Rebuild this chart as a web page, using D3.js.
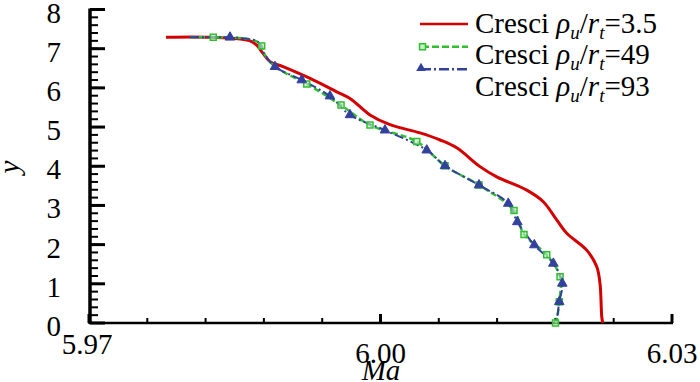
<!DOCTYPE html>
<html><head><meta charset="utf-8"><script src="https://cdn.jsdelivr.net/npm/d3@7"></script></head>
<body style="margin:0">
<svg id="s" width="700" height="382"></svg>
<script>
// ---- data ----
const xTicksMajor = [5.97, 6.00, 6.03];
const yTicksMajor = [0, 1, 2, 3, 4, 5, 6, 7, 8];

// Cresci rho_u/r_t = 3.5
const redMa = [5.97792, 5.98245, 5.98657, 5.98726, 5.98791, 5.98863, 5.98997, 5.99275, 5.99549, 5.99686, 5.99892, 6.00098, 6.00407, 6.00613, 6.00784, 6.01024, 6.01196, 6.01505, 6.01673, 6.01814, 6.01917, 6.02122, 6.02225, 6.02259, 6.02277, 6.02287];
const redY  = [7.29, 7.29, 7.20, 7.09, 6.88, 6.67, 6.54, 6.24, 5.90, 5.73, 5.31, 5.06, 4.85, 4.67, 4.47, 3.99, 3.73, 3.39, 3.10, 2.63, 2.29, 1.86, 1.44, 1.01, 0.16, 0.00];

// Cresci rho_u/r_t = 49 (squares)
const greenMa = [5.98039, 5.98279, 5.98636, 5.98739, 5.98777, 5.98811, 5.98914, 5.99241, 5.99594, 5.99892, 6.00373, 6.00664, 6.01014, 6.01374, 6.01477, 6.01711, 6.01848, 6.01840, 6.01813, 6.01801];
const greenY  = [7.29, 7.29, 7.25, 7.17, 7.07, 6.84, 6.54, 6.10, 5.56, 5.05, 4.63, 4.01, 3.52, 2.87, 2.26, 1.74, 1.18, 0.54, 0.08, 0.00];
const greenMark = [0, 1, 0, 0, 1, 0, 0, 1, 1, 1, 1, 1, 1, 1, 1, 1, 1, 1, 0, 1];

// Cresci rho_u/r_t = 93 (triangles)
const blueMa = [5.98039, 5.98451, 5.98636, 5.98739, 5.98811, 5.98914, 5.99189, 5.99480, 5.99686, 6.00046, 6.00476, 6.00664, 6.01014, 6.01315, 6.01408, 6.01583, 6.01779, 6.01871, 6.01840, 6.01813, 6.01801];
const blueY  = [7.29, 7.29, 7.25, 7.17, 6.84, 6.54, 6.20, 5.79, 5.31, 4.92, 4.41, 4.01, 3.52, 3.05, 2.58, 1.99, 1.52, 1.01, 0.54, 0.08, 0.00];
const blueMark = [0, 1, 0, 0, 0, 1, 1, 1, 1, 1, 1, 1, 1, 1, 1, 1, 1, 1, 1, 0, 0];

const legendLabels = ["3.5", "49", "93"];

// ---- chart ----
const svg = d3.select("#s");
const x = d3.scaleLinear().domain([5.97, 6.03]).range([89, 672]);
const y = d3.scaleLinear().domain([0, 8]).range([323, 9.5]);

const RED = "#d40000", GREEN = "#2fbf2f", BLUE = "#34409e";
const FS = 29;
const serif = sel => sel.attr("font-family", '"Times New Roman"').attr("font-size", FS);

// minor ticks
const xMinor = d3.range(0, 11).map(i => 5.97 + i * 0.006);
const yMinor = d3.range(0, 41).map(i => i * 0.2);

svg.append("g").selectAll("line").data(xMinor).join("line")
  .attr("x1", d => x(d)).attr("x2", d => x(d)).attr("y1", 323).attr("y2", 318)
  .attr("stroke", "#000").attr("stroke-width", 2);
svg.append("g").selectAll("line").data(yMinor).join("line")
  .attr("x1", 90).attr("x2", 98).attr("y1", d => y(d)).attr("y2", d => y(d))
  .attr("stroke", "#000").attr("stroke-width", 2);

// major ticks
svg.append("g").selectAll("line").data(xTicksMajor).join("line")
  .attr("x1", d => x(d)).attr("x2", d => x(d)).attr("y1", 323).attr("y2", 314)
  .attr("stroke", "#000").attr("stroke-width", 3);
svg.append("g").selectAll("line").data(yTicksMajor).join("line")
  .attr("x1", 90).attr("x2", 105).attr("y1", d => y(d)).attr("y2", d => y(d))
  .attr("stroke", "#000").attr("stroke-width", 3);

// axis lines
svg.append("line").attr("x1", 89).attr("x2", 673).attr("y1", 323).attr("y2", 323)
  .attr("stroke", "#000").attr("stroke-width", 2.5);
svg.append("line").attr("x1", 90).attr("x2", 90).attr("y1", y(8) - 1).attr("y2", 324)
  .attr("stroke", "#000").attr("stroke-width", 3.5);

// tick labels
const fmtX = d3.format(".2f");
svg.append("g").selectAll("text").data(xTicksMajor).join("text")
  .call(serif).attr("text-anchor", "middle")
  .attr("x", d => x(d) + (Math.abs(d - 5.97) < 1e-9 ? -2 : 0))
  .attr("y", d => 323 + (Math.abs(d - 5.97) < 1e-9 ? 31 : 40))
  .text(d => fmtX(d));
svg.append("g").selectAll("text").data(yTicksMajor).join("text")
  .call(serif).attr("text-anchor", "end")
  .attr("x", 61).attr("y", d => y(d) + 13)
  .text(d => d);

// axis titles
svg.append("text").attr("x", 381).attr("y", 380).attr("text-anchor", "middle")
  .call(serif).attr("font-style", "italic").text("Ma");
svg.append("text").attr("transform", "translate(19,167) rotate(-90)").attr("text-anchor", "middle")
  .call(serif).attr("font-style", "italic").text("y");

// lines
const toPts = (ma, yy) => ma.map((m, i) => [m, yy[i]]);
const line = d3.line().x(d => x(d[0])).y(d => y(d[1])).curve(d3.curveCatmullRom.alpha(0.5));

const redPts = toPts(redMa, redY);
const greenPts = toPts(greenMa, greenY);
const bluePts = toPts(blueMa, blueY);

svg.append("path").attr("d", line(redPts)).attr("fill", "none")
  .attr("stroke", RED).attr("stroke-width", 3);
svg.append("path").attr("d", line(greenPts)).attr("fill", "none")
  .attr("stroke", GREEN).attr("stroke-width", 2.5).attr("stroke-dasharray", "6,3");
svg.append("path").attr("d", line(bluePts)).attr("fill", "none")
  .attr("stroke", BLUE).attr("stroke-width", 2).attr("stroke-dasharray", "9,3,2,3");

// markers
const sq = d3.symbol().type(d3.symbolSquare).size(36);
const tri = d3.symbol().type(d3.symbolTriangle).size(40);
svg.append("g").selectAll("path").data(greenPts.filter((d, i) => greenMark[i]))
  .join("path").attr("d", sq)
  .attr("transform", d => `translate(${x(d[0])},${y(d[1])})`)
  .attr("fill", "#c8eec8").attr("fill-opacity", 0.6).attr("stroke", GREEN).attr("stroke-width", 1.5);
svg.append("g").selectAll("path").data(bluePts.filter((d, i) => blueMark[i]))
  .join("path").attr("d", tri)
  .attr("transform", d => `translate(${x(d[0])},${y(d[1])})`)
  .attr("fill", BLUE).attr("stroke", BLUE).attr("stroke-width", 1);

// legend
const legY = [24, 46.7, 69.3];
const legTextY = [33, 64, 95.5];
svg.append("line").attr("x1", 420).attr("x2", 468).attr("y1", legY[0]).attr("y2", legY[0])
  .attr("stroke", RED).attr("stroke-width", 2.5);
svg.append("line").attr("x1", 422).attr("x2", 468).attr("y1", legY[1]).attr("y2", legY[1])
  .attr("stroke", GREEN).attr("stroke-width", 2.5).attr("stroke-dasharray", "7,3");
svg.append("path").attr("d", sq).attr("transform", `translate(422.5,${legY[1]})`)
  .attr("fill", "#c8eec8").attr("stroke", GREEN).attr("stroke-width", 1.5);
svg.append("line").attr("x1", 421).attr("x2", 468).attr("y1", legY[2]).attr("y2", legY[2])
  .attr("stroke", BLUE).attr("stroke-width", 2.5).attr("stroke-dasharray", "10,3,2,3");
svg.append("path").attr("d", tri).attr("transform", `translate(421,${legY[2] - 1})`)
  .attr("fill", BLUE);

legendLabels.forEach((lab, i) => {
  const t = svg.append("text").attr("x", 475).attr("y", legTextY[i]).call(serif);
  t.append("tspan").text("Cresci ");
  t.append("tspan").attr("font-style", "italic").text("ρ");
  t.append("tspan").attr("font-style", "italic").attr("font-size", 19).attr("dy", 6).text("u");
  t.append("tspan").attr("dy", -6).text("/");
  t.append("tspan").attr("font-style", "italic").text("r");
  t.append("tspan").attr("font-style", "italic").attr("font-size", 19).attr("dy", 6).text("t");
  t.append("tspan").attr("dy", -6).text("=" + lab);
});
</script>
</body></html>
